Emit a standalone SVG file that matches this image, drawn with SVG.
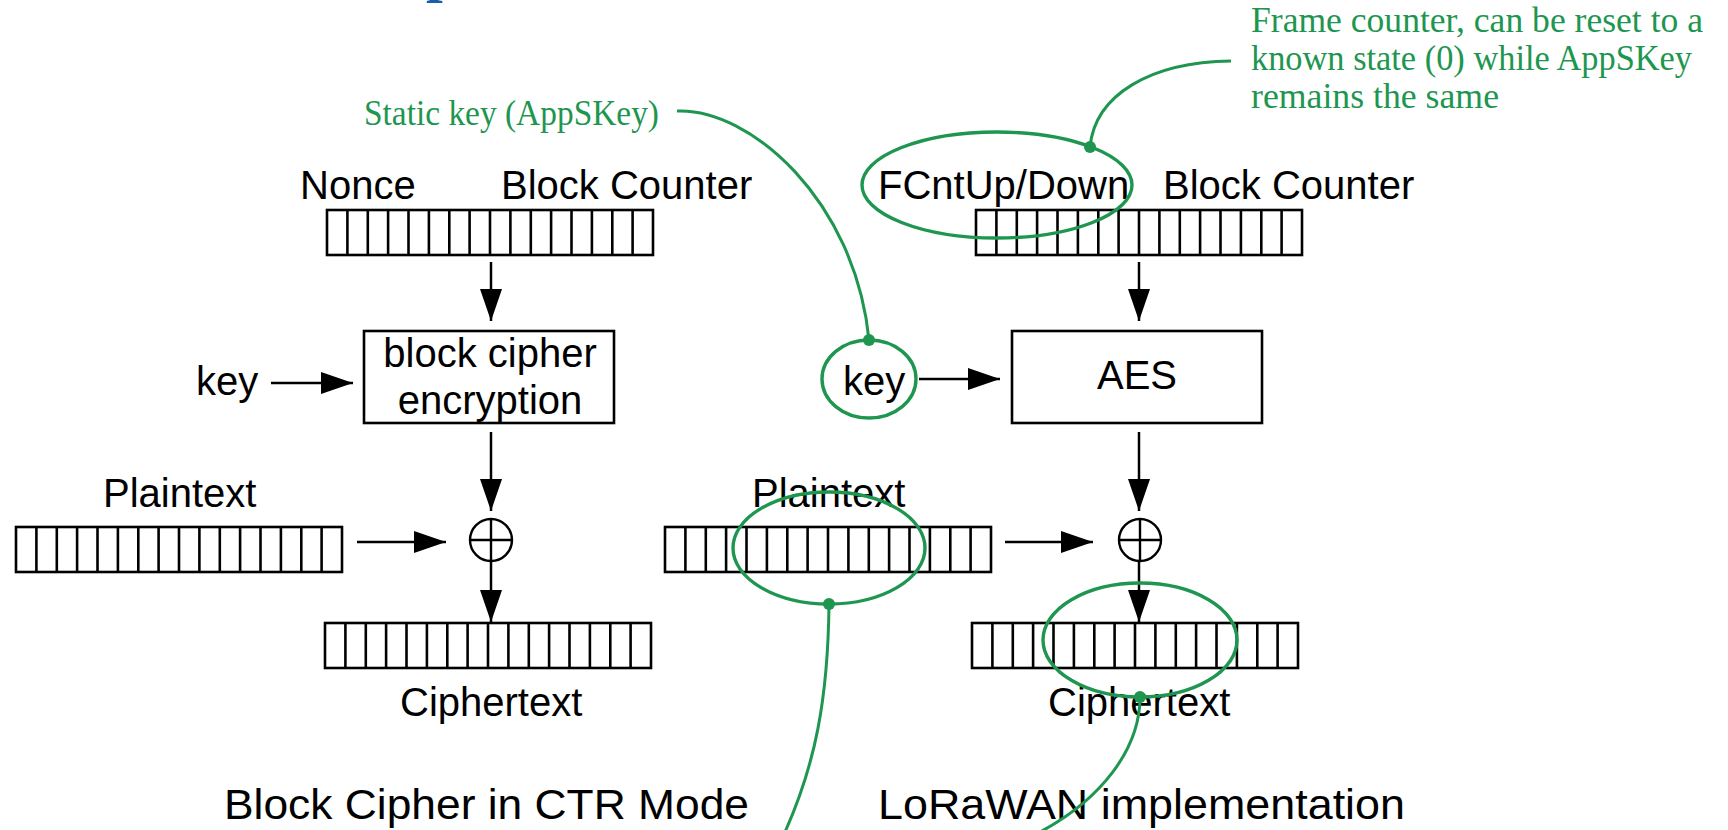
<svg xmlns="http://www.w3.org/2000/svg" xmlns:xlink="http://www.w3.org/1999/xlink" width="1728" height="830" viewBox="0 0 1728 830">
  <style>
    .lbl { font-family: "Liberation Sans", Arial, Helvetica, sans-serif; font-size: 40px; fill: #000; }
    .ttl { font-family: "Liberation Sans", Arial, Helvetica, sans-serif; font-size: 43px; fill: #000; }
    .note { font-family: "Liberation Serif", "DejaVu Serif", serif; font-size: 36px; fill: #1e9650; }
    .box { fill: #fff; stroke: #000; stroke-width: 2.6; }
    .reg rect, .reg line { fill: none; stroke: #000; stroke-width: 2.6; }
    .xor { fill: none; stroke: #000; stroke-width: 2.4; }
    .flow { fill: none; stroke: #000; stroke-width: 2.5; marker-end: url(#head); }
    .ring { fill: none; stroke: #1e9650; stroke-width: 3.4; }
    .lead { fill: none; stroke: #1e9650; stroke-width: 3; }
    .dot { fill: #1e9650; }
  </style>
  <defs>
    <marker id="head" markerUnits="userSpaceOnUse" markerWidth="34" markerHeight="24" refX="32" refY="11" orient="auto">
      <path d="M0,0 L32,11 L0,22 z" fill="#000"/>
    </marker>
    <!-- 16-cell register, 326 x 45 -->
    <g id="register" class="reg">
      <rect x="0" y="0" width="326" height="45"/>
      <line x1="20.4" y1="0" x2="20.4" y2="45"/>
      <line x1="40.8" y1="0" x2="40.8" y2="45"/>
      <line x1="61.1" y1="0" x2="61.1" y2="45"/>
      <line x1="81.5" y1="0" x2="81.5" y2="45"/>
      <line x1="101.9" y1="0" x2="101.9" y2="45"/>
      <line x1="122.3" y1="0" x2="122.3" y2="45"/>
      <line x1="142.6" y1="0" x2="142.6" y2="45"/>
      <line x1="163" y1="0" x2="163" y2="45"/>
      <line x1="183.4" y1="0" x2="183.4" y2="45"/>
      <line x1="203.8" y1="0" x2="203.8" y2="45"/>
      <line x1="224.1" y1="0" x2="224.1" y2="45"/>
      <line x1="244.5" y1="0" x2="244.5" y2="45"/>
      <line x1="264.9" y1="0" x2="264.9" y2="45"/>
      <line x1="285.3" y1="0" x2="285.3" y2="45"/>
      <line x1="305.6" y1="0" x2="305.6" y2="45"/>
    </g>
    <!-- XOR symbol centred on origin -->
    <g id="xor" class="xor">
      <circle cx="0" cy="0" r="21"/>
      <line x1="-21" y1="0" x2="21" y2="0"/>
      <line x1="0" y1="-21" x2="0" y2="21"/>
    </g>
  </defs>

  <rect width="1728" height="830" fill="#fff"/>

  <!-- descender of the heading above the frame -->
  <text x="426" y="-10" style="font-family: 'Liberation Serif', serif; font-weight: bold; font-size: 60px; fill: #1a5ea8;">p</text>

  <!-- ===== Block cipher in CTR mode ===== -->
  <g id="ctr-counter">
    <text class="lbl" x="300" y="199">Nonce</text>
    <text class="lbl" x="501" y="199">Block Counter</text>
    <use xlink:href="#register" x="327" y="210"/>
  </g>
  <g id="ctr-key">
    <text class="lbl" x="196" y="395">key</text>
  </g>
  <g id="ctr-cipher">
    <rect class="box" x="364" y="331" width="250" height="92"/>
    <text class="lbl" x="490" y="367" text-anchor="middle">block cipher</text>
    <text class="lbl" x="490" y="414" text-anchor="middle">encryption</text>
  </g>
  <g id="ctr-plaintext">
    <text class="lbl" x="103" y="507">Plaintext</text>
    <use xlink:href="#register" x="16" y="527"/>
  </g>
  <g id="ctr-xor">
    <use xlink:href="#xor" x="491" y="540"/>
  </g>
  <g id="ctr-ciphertext">
    <use xlink:href="#register" x="325" y="623"/>
    <text class="lbl" x="400" y="716">Ciphertext</text>
  </g>
  <g id="ctr-title">
    <text class="ttl" x="224" y="819" textLength="525" lengthAdjust="spacingAndGlyphs">Block Cipher in CTR Mode</text>
  </g>

  <!-- ===== LoRaWAN ===== -->
  <g id="lora-counter">
    <text class="lbl" x="878" y="199">FCntUp/Down</text>
    <text class="lbl" x="1163" y="199">Block Counter</text>
    <use xlink:href="#register" x="976" y="210"/>
  </g>
  <g id="lora-key">
    <text class="lbl" x="843" y="395">key</text>
  </g>
  <g id="lora-aes">
    <rect class="box" x="1012" y="331" width="250" height="92"/>
    <text class="lbl" x="1137" y="389" text-anchor="middle">AES</text>
  </g>
  <g id="lora-plaintext">
    <text class="lbl" x="752" y="507">Plaintext</text>
    <use xlink:href="#register" x="665" y="527"/>
  </g>
  <g id="lora-xor">
    <use xlink:href="#xor" x="1140" y="540"/>
  </g>
  <g id="lora-ciphertext">
    <use xlink:href="#register" x="972" y="623"/>
    <text class="lbl" x="1048" y="716">Ciphertext</text>
  </g>
  <g id="lora-title">
    <text class="ttl" x="878" y="819" textLength="527" lengthAdjust="spacingAndGlyphs">LoRaWAN implementation</text>
  </g>

  <!-- data flow -->
  <g id="connectors">
    <line class="flow" x1="491" y1="262" x2="491" y2="321"/>
    <line class="flow" x1="271" y1="383" x2="353" y2="383"/>
    <line class="flow" x1="491" y1="432" x2="491" y2="511"/>
    <line class="flow" x1="357" y1="542" x2="446" y2="542"/>
    <line class="flow" x1="491" y1="561" x2="491" y2="622"/>

    <line class="flow" x1="1139" y1="262" x2="1139" y2="321"/>
    <line class="flow" x1="919" y1="379" x2="1000" y2="379"/>
    <line class="flow" x1="1139" y1="432" x2="1139" y2="511"/>
    <line class="flow" x1="1005" y1="542" x2="1093" y2="542"/>
    <line class="flow" x1="1139" y1="561" x2="1139" y2="622"/>
  </g>

  <!-- annotations -->
  <g id="note-static-key">
    <text class="note" x="364" y="125" textLength="295" lengthAdjust="spacingAndGlyphs">Static key (AppSKey)</text>
    <ellipse class="ring" cx="869" cy="379" rx="47" ry="39"/>
    <path class="lead" d="M677,111 C750,108 855,200 869,340"/>
    <circle class="dot" cx="869" cy="340" r="6"/>
  </g>
  <g id="note-frame-counter">
    <text class="note" x="1251" y="32" textLength="452" lengthAdjust="spacingAndGlyphs">Frame counter, can be reset to a</text>
    <text class="note" x="1251" y="70" textLength="441" lengthAdjust="spacingAndGlyphs">known state (0) while AppSKey</text>
    <text class="note" x="1251" y="108" textLength="248" lengthAdjust="spacingAndGlyphs">remains the same</text>
    <ellipse class="ring" cx="997" cy="185" rx="135" ry="53"/>
    <path class="lead" d="M1231,61 C1150,62 1095,95 1090,147"/>
    <circle class="dot" cx="1090" cy="147" r="6"/>
  </g>
  <g id="note-plaintext">
    <ellipse class="ring" cx="829" cy="548" rx="96" ry="56"/>
    <path class="lead" d="M829,604 C828,700 815,765 785,832"/>
    <circle class="dot" cx="829" cy="604" r="6"/>
  </g>
  <g id="note-ciphertext">
    <ellipse class="ring" cx="1140" cy="640" rx="97" ry="57"/>
    <path class="lead" d="M1140,697 C1140,750 1100,800 1040,832"/>
    <circle class="dot" cx="1140" cy="697" r="6"/>
  </g>
</svg>
